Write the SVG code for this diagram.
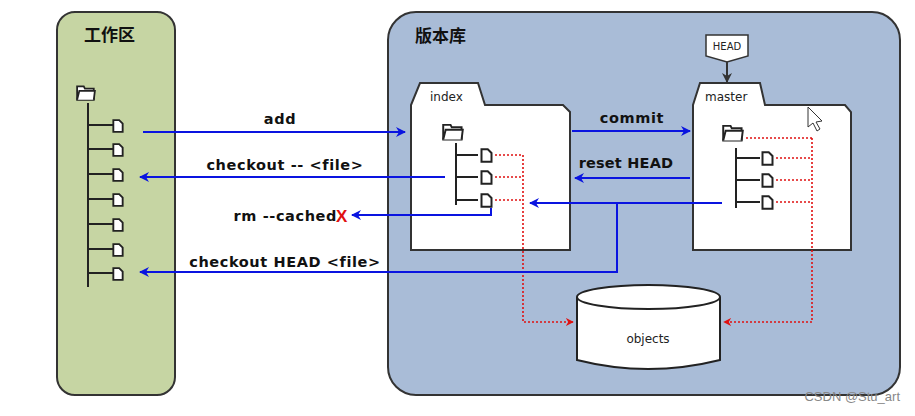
<svg xmlns="http://www.w3.org/2000/svg" width="915" height="416" viewBox="0 0 915 416">
<defs>
<marker id="ab" viewBox="0 0 10 10" refX="9" refY="5" markerWidth="5" markerHeight="5" orient="auto"><path d="M0,0 L10,5 L0,10 L3,5 Z" fill="#0a14e0"/></marker>
<marker id="ar" viewBox="0 0 10 10" refX="9" refY="5" markerWidth="5" markerHeight="5" orient="auto"><path d="M0,0 L10,5 L0,10 L3,5 Z" fill="#e01010"/></marker>
<marker id="ag" viewBox="0 0 10 10" refX="9" refY="5" markerWidth="5" markerHeight="5" orient="auto"><path d="M0,0 L10,5 L0,10 L3,5 Z" fill="#333"/></marker>
<symbol id="file" viewBox="0 0 10 12"><path d="M1,1 H6 L9,4 V11 H1 Z" fill="#fff" stroke="#222" stroke-width="1.6"/></symbol>
<symbol id="fold" viewBox="0 0 18 16"><path d="M1,3 H7 L8,5 H16 V15 H1 Z" fill="#fff" stroke="#222" stroke-width="1.6"/><path d="M1,15 L3,7 H17 L16,15" fill="#fff" stroke="#222" stroke-width="1.6"/></symbol>
</defs>
<style>
.t{font-family:"DejaVu Sans",Verdana,sans-serif;font-weight:bold;font-size:14.5px;letter-spacing:0.6px;fill:#111}
.c{font-family:"Noto Sans CJK SC",sans-serif;font-weight:bold;font-size:17px;fill:#111}
.s{font-family:"DejaVu Sans",sans-serif;font-size:12px;fill:#222}
.b{stroke:#0a14e0;stroke-width:2;fill:none}
.r{stroke:#e01010;stroke-width:1.6;stroke-dasharray:2,2;fill:none}
.k{stroke:#222;stroke-width:2;fill:none}
</style>
<rect width="915" height="416" fill="#fff"/>
<g id="workspace">
<rect x="57" y="12" width="118" height="383" rx="18" fill="#c6d5a3" stroke="#333" stroke-width="2"/>
<text x="84" y="41" class="c">工作区</text>
<use href="#fold" x="76" y="83" width="20" height="18"/>
<path class="k" d="M88,103 V287 M88,125 H113 M88,149 H113 M88,174 H113 M88,199 H113 M88,224 H113 M88,249 H113 M88,273 H113"/>
<use href="#file" x="112" y="119" width="12" height="14"/><use href="#file" x="112" y="143" width="12" height="14"/><use href="#file" x="112" y="168" width="12" height="14"/><use href="#file" x="112" y="193" width="12" height="14"/><use href="#file" x="112" y="218" width="12" height="14"/><use href="#file" x="112" y="243" width="12" height="14"/><use href="#file" x="112" y="267" width="12" height="14"/>
</g>
<g id="repo">
<rect x="388" y="12" width="512" height="383" rx="28" fill="#a9bcd7" stroke="#333" stroke-width="2"/>
<text x="415" y="42" class="c">版本库</text>
</g>
<g id="index">
<path d="M411,250 V105 L420,83 H478 L485,105 H563 L570,112 V250 Z" fill="#fff" stroke="#333" stroke-width="2"/>
<text x="430" y="101" class="s">index</text>
<use href="#fold" x="442" y="121" width="22" height="20"/>
<path class="k" d="M456,143 V205 M456,155 H478 M456,177 H478 M456,200 H478"/>
<use href="#file" x="480" y="148" width="13" height="15"/><use href="#file" x="480" y="170" width="13" height="15"/><use href="#file" x="480" y="193" width="13" height="15"/>
</g>
<g id="master">
<path d="M693,250 V105 L700,83 H760 L765,105 H845 L851,112 V250 Z" fill="#fff" stroke="#333" stroke-width="2"/>
<text x="705" y="101" class="s">master</text>
<use href="#fold" x="722" y="122" width="22" height="20"/>
<path class="k" d="M736,148 V208 M736,158 H760 M736,180 H760 M736,202 H760"/>
<use href="#file" x="761" y="151" width="13" height="15"/><use href="#file" x="761" y="173" width="13" height="15"/><use href="#file" x="761" y="195" width="13" height="15"/>
<path d="M808,107 V127 L813,123 L817,131 L820,129 L816,122 L822,121 Z" fill="#fff" stroke="#333" stroke-width="1"/>
</g>
<g id="head">
<path d="M706,35 H748 V56 L727,62 L706,56 Z" fill="#fff" stroke="#333" stroke-width="1.5"/>
<text x="727" y="50" text-anchor="middle" class="s" style="font-size:10px">HEAD</text>
</g>
<g id="objects">
<path d="M577,297 V360 Q648,378 720,360 V297" fill="#fff" stroke="#222" stroke-width="2"/>
<ellipse cx="648.5" cy="297" rx="71.5" ry="12" fill="#fff" stroke="#222" stroke-width="2"/>
<text x="648" y="343" text-anchor="middle" class="s">objects</text>
</g>
<g id="connectors">
<path class="r" d="M495,155 H523 M495,177 H523 M495,200 H523 M523,155 V322 H573" marker-end="url(#ar)"/>
<path class="r" d="M746,138 H812 M776,158 H812 M776,180 H812 M776,202 H812 M812,138 V322 H724" marker-end="url(#ar)"/>
<path d="M727,62 V82" stroke="#333" stroke-width="2" marker-end="url(#ag)"/>
<path class="b" d="M143,132 H405" marker-end="url(#ab)"/>
<path class="b" d="M572,131 H690" marker-end="url(#ab)"/>
<path class="b" d="M690,178 H575" marker-end="url(#ab)"/>
<path class="b" d="M445,177 H140" marker-end="url(#ab)"/>
<path class="b" d="M491,208 V215 H352" marker-end="url(#ab)"/>
<path class="b" d="M722,203 H530" marker-end="url(#ab)"/>
<path class="b" d="M617,203 V272 H140" marker-end="url(#ab)"/>
</g>
<g id="labels">
<text x="280" y="124" text-anchor="middle" class="t">add</text>
<text x="632" y="123" text-anchor="middle" class="t">commit</text>
<text x="626" y="168" text-anchor="middle" class="t" style="letter-spacing:0.2px">reset HEAD</text>
<text x="285" y="170" text-anchor="middle" class="t">checkout -- &lt;file&gt;</text>
<text x="337" y="221" text-anchor="end" class="t">rm --cached</text>
<text x="336" y="222" style="font-family:'Liberation Sans',sans-serif;font-weight:bold;font-size:17px;fill:#e01010">X</text>
<text x="285" y="267" text-anchor="middle" class="t">checkout HEAD &lt;file&gt;</text>
<text x="900" y="401" text-anchor="end" style="font-family:'Liberation Sans',sans-serif;font-size:13px;fill:#888">CSDN @Stu_art</text>
</g>
</svg>
